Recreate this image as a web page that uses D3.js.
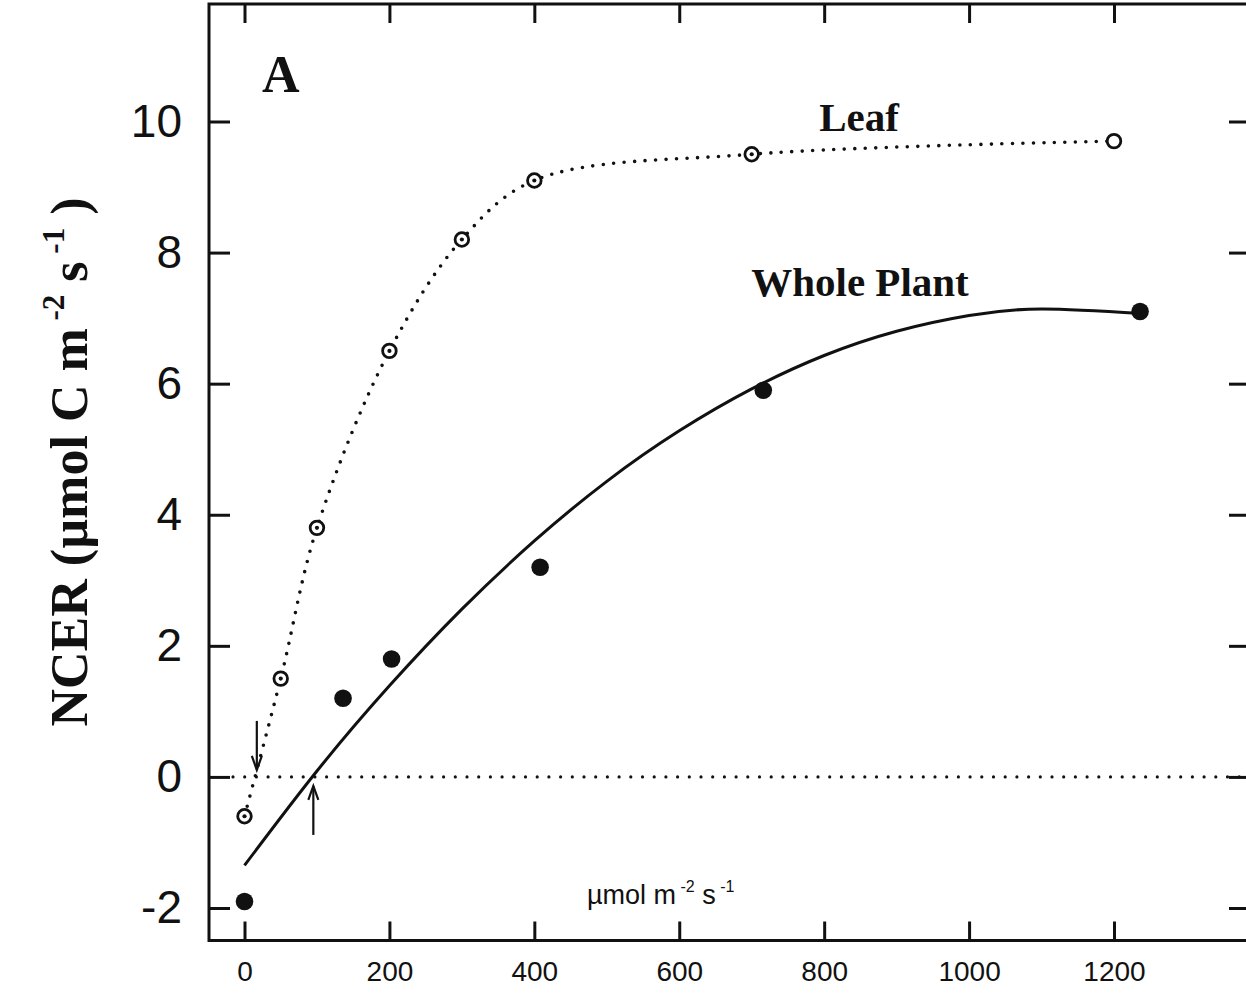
<!DOCTYPE html>
<html>
<head>
<meta charset="utf-8">
<script src="https://cdn.jsdelivr.net/npm/d3@7"></script>
<style>
  html, body { margin: 0; padding: 0; background: #fff; }
  svg { display: block; }
</style>
</head>
<body>
<svg id="chart" width="1246" height="996"></svg>
<script>
// Light-response of net carbon exchange rate (NCER)

// Leaf measurements (open circles)
const leafPPF  = [0, 50, 100, 200, 300, 400, 700, 1200];
const leafNCER = [-0.6, 1.5, 3.8, 6.5, 8.2, 9.1, 9.5, 9.7];

// Whole-plant measurements (filled circles)
const plantPPF  = [0, 136, 203, 408, 716, 1236];
const plantNCER = [-1.9, 1.2, 1.8, 3.2, 5.9, 7.1];

// Whole-plant fitted response curve
const plantFitPPF  = [0, 100, 200, 300, 400, 500, 600, 700, 800, 900, 1000, 1100, 1237];
const plantFitNCER = [-1.35, 0.09, 1.39, 2.56, 3.60, 4.51, 5.28, 5.92, 6.43, 6.80, 7.04, 7.14, 7.07];

// Light compensation points (arrows)
const compLeaf  = 17;
const compPlant = 95;

// Axis ticks
const xTicks = [0, 200, 400, 600, 800, 1000, 1200];
const yTicks = [-2, 0, 2, 4, 6, 8, 10];

const svg = d3.select("#chart");

const frame = { left: 209, right: 1250, top: 4, bottom: 940.5 };

const x = d3.scaleLinear().domain([0, 1200]).range([244.5, 1114]);
const y = d3.scaleLinear().domain([-2, 10]).range([908, 121.5]);

const serif = "'Liberation Serif', 'Times New Roman', serif";
const sans = "'Liberation Sans', Arial, sans-serif";
const plain = d => String(d);

// Zero line
svg.append("line")
  .attr("x1", frame.left + 24).attr("x2", frame.right)
  .attr("y1", y(0)).attr("y2", y(0))
  .attr("stroke", "#111").attr("stroke-width", 3.2)
  .attr("stroke-linecap", "round")
  .attr("stroke-dasharray", "0 11.7");

// Axes (ticks pointing inward)
const axBottom = svg.append("g")
  .attr("transform", `translate(0,${frame.bottom})`)
  .call(d3.axisBottom(x).tickValues(xTicks).tickFormat(plain).tickSizeInner(-19).tickSizeOuter(0).tickPadding(21));
const axLeft = svg.append("g")
  .attr("transform", `translate(${frame.left},0)`)
  .call(d3.axisLeft(y).tickValues(yTicks).tickFormat(plain).tickSizeInner(-21).tickSizeOuter(0).tickPadding(27));
const axTop = svg.append("g")
  .attr("transform", `translate(0,${frame.top})`)
  .call(d3.axisTop(x).tickValues(xTicks).tickSizeInner(-19).tickSizeOuter(0).tickFormat(""));
const axRight = svg.append("g")
  .attr("transform", `translate(${frame.right},0)`)
  .call(d3.axisRight(y).tickValues(yTicks).tickSizeInner(-21).tickSizeOuter(0).tickFormat(""));

[axBottom, axLeft, axTop, axRight].forEach(g => {
  g.select(".domain").remove();
  g.selectAll(".tick line").attr("stroke", "#111").attr("stroke-width", 3);
});
axBottom.selectAll(".tick text")
  .attr("font-family", sans).attr("font-size", 28).attr("fill", "#111");
axLeft.selectAll(".tick text")
  .attr("font-family", sans).attr("font-size", 46).attr("fill", "#111");

// Frame
svg.append("rect")
  .attr("x", frame.left).attr("y", frame.top)
  .attr("width", frame.right - frame.left).attr("height", frame.bottom - frame.top)
  .attr("fill", "none").attr("stroke", "#111").attr("stroke-width", 3);

// Leaf curve (dotted)
const leafPts = leafPPF.map((v, i) => [v, leafNCER[i]]);
svg.append("path")
  .datum(leafPts)
  .attr("d", d3.line().x(d => x(d[0])).y(d => y(d[1])).curve(d3.curveCatmullRom.alpha(0.5)))
  .attr("fill", "none").attr("stroke", "#111").attr("stroke-width", 3.6)
  .attr("stroke-linecap", "round")
  .attr("stroke-dasharray", "0 10.5");

// Whole-plant curve (solid)
const fitPts = plantFitPPF.map((v, i) => [v, plantFitNCER[i]]);
svg.append("path")
  .datum(fitPts)
  .attr("d", d3.line().x(d => x(d[0])).y(d => y(d[1])).curve(d3.curveNatural))
  .attr("fill", "none").attr("stroke", "#111").attr("stroke-width", 3);

// Leaf markers
const leafG = svg.append("g");
leafG.selectAll("circle.o")
  .data(leafPts).join("circle").attr("class", "o")
  .attr("cx", d => x(d[0])).attr("cy", d => y(d[1])).attr("r", 6.8)
  .attr("fill", "#fff").attr("stroke", "#111").attr("stroke-width", 2.8);
leafG.selectAll("circle.c")
  .data(leafPts.slice(0, -1)).join("circle").attr("class", "c")
  .attr("cx", d => x(d[0])).attr("cy", d => y(d[1])).attr("r", 2.1)
  .attr("fill", "#111");

// Whole-plant markers
svg.append("g").selectAll("circle")
  .data(plantPPF.map((v, i) => [v, plantNCER[i]])).join("circle")
  .attr("cx", d => x(d[0])).attr("cy", d => y(d[1])).attr("r", 8.8)
  .attr("fill", "#111");

// Arrows marking the compensation points
function arrow(xv, y0, y1) {
  const g = svg.append("g").attr("stroke", "#111").attr("stroke-width", 2.2).attr("fill", "none");
  const px = x(xv);
  const dir = Math.sign(y1 - y0);
  g.append("line").attr("x1", px).attr("x2", px).attr("y1", y0).attr("y2", y1);
  g.append("path").attr("d", `M${px - 5},${y1 - dir * 14} L${px},${y1} L${px + 5},${y1 - dir * 14}`);
}
arrow(compLeaf, y(0) - 56, y(0) - 7);
arrow(compPlant, y(0) + 58, y(0) + 9);

// Panel letter and series labels
svg.append("text").attr("x", 262).attr("y", 92)
  .attr("font-family", serif).attr("font-weight", "bold").attr("font-size", 52)
  .attr("fill", "#111").text("A");
svg.append("text").attr("x", 859).attr("y", 131).attr("text-anchor", "middle")
  .attr("font-family", serif).attr("font-weight", "bold").attr("font-size", 41)
  .attr("fill", "#111").text("Leaf");
svg.append("text").attr("x", 860).attr("y", 296).attr("text-anchor", "middle")
  .attr("font-family", serif).attr("font-weight", "bold").attr("font-size", 41)
  .attr("fill", "#111").text("Whole Plant");

// Unit label for the x axis
const unit = svg.append("text").attr("x", 587).attr("y", 904)
  .attr("font-family", sans).attr("font-size", 27).attr("fill", "#111");
unit.append("tspan").text("µmol m");
unit.append("tspan").attr("font-size", 16).attr("dy", -12).text(" -2");
unit.append("tspan").attr("dy", 12).text("  s");
unit.append("tspan").attr("font-size", 16).attr("dy", -12).text(" -1");

// Y axis title
const yt = svg.append("text")
  .attr("transform", "translate(87,462) rotate(-90)")
  .attr("text-anchor", "middle")
  .attr("font-family", serif).attr("font-weight", "bold").attr("font-size", 52)
  .attr("fill", "#111");
yt.append("tspan").text("NCER (µmol C m");
yt.append("tspan").attr("font-size", 31).attr("dy", -23).text(" -2");
yt.append("tspan").attr("dy", 23).text(" s");
yt.append("tspan").attr("font-size", 31).attr("dy", -23).text(" -1");
yt.append("tspan").attr("dy", 23).text(" )");
</script>
</body>
</html>
